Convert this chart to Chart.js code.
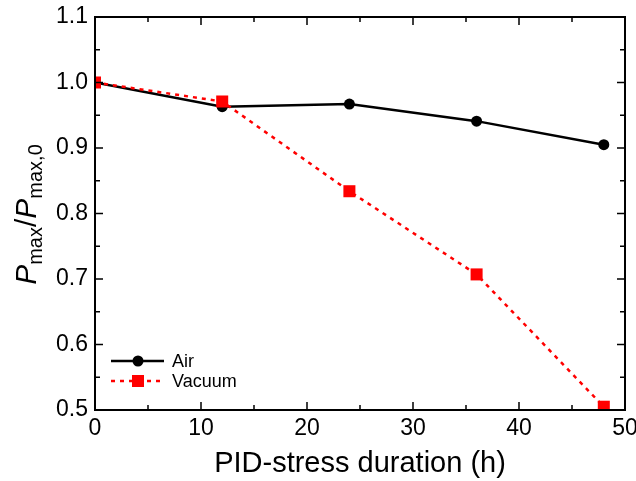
<!DOCTYPE html>
<html>
<head>
<meta charset="utf-8">
<script src="https://cdn.jsdelivr.net/npm/chart.js@4.4.0/dist/chart.umd.min.js"></script>
<style>
  html, body { margin: 0; padding: 0; background: #fff; }
  #wrap { width: 636px; height: 481px; }
</style>
</head>
<body>
<div id="wrap"><canvas id="chart" width="636" height="481"></canvas></div>
<script>
// PID stress duration (h)
const hours = [0, 12, 24, 36, 48];
const airValues = [1.0, 0.963, 0.967, 0.941, 0.905];
const vacuumValues = [1.0, 0.971, 0.834, 0.707, 0.505];
const seriesNames = ['Air', 'Vacuum'];
const xTicks = [0, 10, 20, 30, 40, 50];
const yTicks = [0.5, 0.6, 0.7, 0.8, 0.9, 1.0, 1.1];

const FONT = '"Liberation Sans", Arial, Helvetica, sans-serif';

const toPoints = (xs, ys) => xs.map((x, i) => ({ x, y: ys[i] }));

// frame + inward ticks on all four sides
const frameTicks = {
    id: 'frameTicks',
    afterDatasetsDraw(chart) {
        const { ctx, chartArea: a, scales: { x, y } } = chart;
        ctx.save();
        ctx.strokeStyle = '#000';
        ctx.lineWidth = 2;
        ctx.strokeRect(a.left, a.top, a.right - a.left, a.bottom - a.top);
        ctx.lineWidth = 1.5;
        ctx.beginPath();
        for (let v = 0; v <= 50; v += 5) {
            const px = x.getPixelForValue(v);
            const len = v % 10 === 0 ? 8 : 5;
            ctx.moveTo(px, a.bottom); ctx.lineTo(px, a.bottom - len);
            ctx.moveTo(px, a.top); ctx.lineTo(px, a.top + len);
        }
        for (let k = 10; k <= 22; k++) {
            const py = y.getPixelForValue(k / 20);
            const len = k % 2 === 0 ? 8 : 5;
            ctx.moveTo(a.left, py); ctx.lineTo(a.left + len, py);
            ctx.moveTo(a.right, py); ctx.lineTo(a.right - len, py);
        }
        ctx.stroke();
        ctx.restore();
    }
};

// y title with italic P and subscripts
const yTitle = {
    id: 'yTitle',
    afterDraw(chart) {
        const { ctx, chartArea: a } = chart;
        const big = 'italic 30px ' + FONT;
        const bigUp = '30px ' + FONT;
        const small = '20px ' + FONT;
        const parts = [
            { t: 'P', f: big, dy: 0 },
            { t: 'max', f: small, dy: 6 },
            { t: '/', f: bigUp, dy: 0 },
            { t: 'P', f: big, dy: 0 },
            { t: 'max,0', f: small, dy: 6 }
        ];
        ctx.save();
        let total = 0;
        parts.forEach(p => { ctx.font = p.f; p.w = ctx.measureText(p.t).width; total += p.w; });
        ctx.translate(36, (a.top + a.bottom) / 2 + 1);
        ctx.rotate(-Math.PI / 2);
        ctx.fillStyle = '#000';
        ctx.textBaseline = 'alphabetic';
        let cx = -total / 2;
        parts.forEach(p => {
            ctx.font = p.f;
            ctx.fillText(p.t, cx, p.dy);
            cx += p.w;
        });
        ctx.restore();
    }
};

// legend in lower-left corner of the plot
const innerLegend = {
    id: 'innerLegend',
    afterDraw(chart) {
        const { ctx } = chart;
        ctx.save();
        chart.data.datasets.forEach((ds, i) => {
            const yy = 361 + i * 20;
            ctx.strokeStyle = ds.borderColor;
            ctx.lineWidth = 2.5;
            ctx.setLineDash(ds.borderDash || []);
            ctx.beginPath();
            ctx.moveTo(111, yy); ctx.lineTo(164, yy);
            ctx.stroke();
            ctx.setLineDash([]);
            ctx.fillStyle = ds.backgroundColor;
            if (ds.pointStyle === 'rect') {
                ctx.fillRect(138 - 6, yy - 6, 12, 12);
            } else {
                ctx.beginPath();
                ctx.arc(138, yy, 5.5, 0, Math.PI * 2);
                ctx.fill();
            }
            ctx.fillStyle = '#000';
            ctx.font = '18px ' + FONT;
            ctx.textBaseline = 'middle';
            ctx.fillText(ds.label, 172, yy + 1);
        });
        ctx.restore();
    }
};

new Chart(document.getElementById('chart'), {
    type: 'line',
    data: {
        datasets: [
            {
                label: seriesNames[0],
                data: toPoints(hours, airValues),
                borderColor: '#000',
                backgroundColor: '#000',
                borderWidth: 2.5,
                pointStyle: 'circle',
                pointRadius: 5.5,
                pointBorderWidth: 0,
                order: 2,
                tension: 0
            },
            {
                label: seriesNames[1],
                data: toPoints(hours, vacuumValues),
                borderColor: '#ff0000',
                backgroundColor: '#ff0000',
                borderWidth: 2.5,
                borderDash: [4, 5],
                pointStyle: 'rect',
                pointRadius: 8.5,
                pointBorderWidth: 0,
                order: 1,
                tension: 0
            }
        ]
    },
    options: {
        responsive: false,
        animation: false,
        devicePixelRatio: 1,
        layout: { padding: { left: 0, top: 17, right: 11, bottom: 0 } },
        plugins: {
            legend: { display: false },
            tooltip: { enabled: false }
        },
        scales: {
            x: {
                type: 'linear',
                min: 0, max: 50,
                afterBuildTicks: s => { s.ticks = xTicks.map(v => ({ value: v })); },
                afterFit: s => { s.height = 71; s.paddingLeft = 0; s.paddingRight = 0; },
                grid: { display: false, drawTicks: false },
                border: { display: false },
                ticks: {
                    color: '#000',
                    padding: 5,
                    font: { family: FONT, size: 23 },
                    maxRotation: 0
                },
                title: {
                    display: true,
                    text: 'PID-stress duration (h)',
                    color: '#000',
                    font: { family: FONT, size: 29 },
                    padding: { top: 0, bottom: 0 }
                }
            },
            y: {
                min: 0.5, max: 1.1,
                afterBuildTicks: s => { s.ticks = yTicks.map(v => ({ value: v })); },
                afterFit: s => { s.width = 95; s.paddingTop = 0; s.paddingBottom = 0; },
                grid: { display: false, drawTicks: false },
                border: { display: false },
                ticks: {
                    color: '#000',
                    padding: 7,
                    font: { family: FONT, size: 23 },
                    callback: v => v.toFixed(1)
                }
            }
        }
    },
    plugins: [frameTicks, yTitle, innerLegend]
});
</script>
</body>
</html>
